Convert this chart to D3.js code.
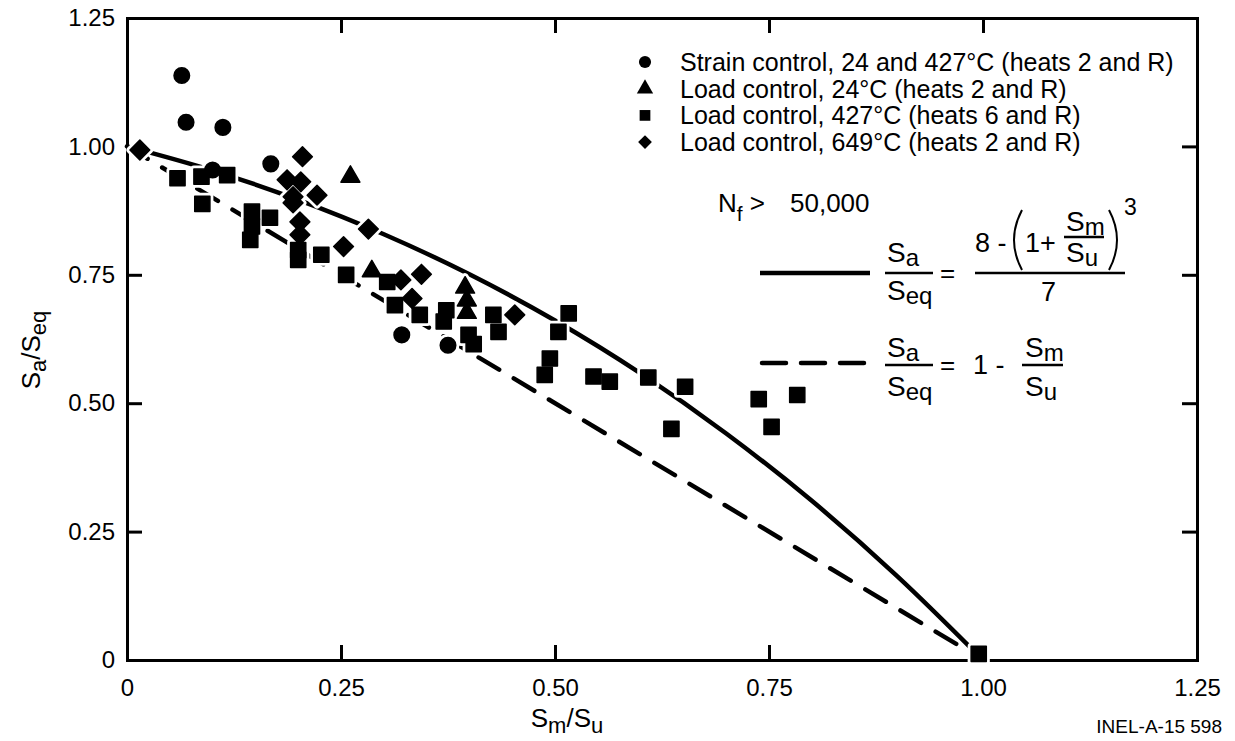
<!DOCTYPE html>
<html lang="en">
<head>
    <meta charset="UTF-8">
    <title>Sa/Seq vs Sm/Su</title>
    <style>
        body {
            margin: 0;
            padding: 0;
            background: #fff;
        }
        text {
            font-family: "Liberation Sans", Arial, Helvetica, sans-serif;
            fill: #000;
        }
        .axis path, .axis line {
            stroke: #000;
            stroke-width: 3px;
        }
        .axis text {
            font-size: 24px;
        }
    </style>
</head>
<body>
    <script src="https://d3js.org/d3.v7.min.js"></script>
    <script>
        // data
        const circleX = [0.064, 0.069, 0.112, 0.100, 0.168, 0.321, 0.375];
        const circleY = [1.138, 1.047, 1.037, 0.954, 0.966, 0.633, 0.613];

        const triangleX = [0.261, 0.286, 0.395, 0.397, 0.397];
        const triangleY = [0.941, 0.757, 0.725, 0.700, 0.676];

        const squareX = [0.059, 0.087, 0.117, 0.088, 0.146, 0.167, 0.146, 0.144, 0.200, 0.200, 0.227, 0.256,
            0.304, 0.313, 0.342, 0.373, 0.370, 0.399, 0.405, 0.428, 0.434, 0.516, 0.504, 0.494, 0.488,
            0.545, 0.564, 0.609, 0.652, 0.636, 0.738, 0.783, 0.753, 0.995];
        const squareY = [0.938, 0.941, 0.944, 0.888, 0.873, 0.861, 0.844, 0.818, 0.798, 0.779, 0.789, 0.750,
            0.736, 0.691, 0.672, 0.681, 0.659, 0.633, 0.615, 0.672, 0.639, 0.675, 0.639, 0.587, 0.555,
            0.552, 0.542, 0.550, 0.532, 0.450, 0.508, 0.516, 0.454, 0.012];

        const diamondX = [0.015, 0.205, 0.187, 0.203, 0.222, 0.194, 0.194, 0.202, 0.202, 0.282, 0.253,
            0.320, 0.344, 0.333, 0.453];
        const diamondY = [0.993, 0.980, 0.935, 0.931, 0.905, 0.902, 0.890, 0.853, 0.828, 0.839, 0.805,
            0.740, 0.751, 0.704, 0.672];

        // design curves
        const curveX = [0, 0.1, 0.2, 0.3, 0.4, 0.5, 0.6, 0.7, 0.8, 0.9, 1.0];
        const cubicY = [1.0, 0.953, 0.896, 0.829, 0.751, 0.661, 0.558, 0.441, 0.310, 0.163, 0.0];
        const linearX = [0, 1.0];
        const linearY = [1.0, 0.0];

        const ticks = [0, 0.25, 0.5, 0.75, 1.0, 1.25];

        const legendLabels = [
            'Strain control, 24 and 427°C (heats 2 and R)',
            'Load control, 24°C (heats 2 and R)',
            'Load control, 427°C (heats 6 and R)',
            'Load control, 649°C (heats 2 and R)'
        ];

        const width = 1235;
        const height = 741;

        const svg = d3.select('body').append('svg')
            .attr('width', width)
            .attr('height', height);

        const x = d3.scaleLinear().domain([0, 1.25]).range([127, 1197]);
        const y = d3.scaleLinear().domain([0, 1.25]).range([660, 18]);

        const fmt = d => d === 0 ? '0' : d3.format('.2f')(d);

        // frame with inward ticks on all four sides
        svg.append('g').attr('class', 'axis')
            .attr('transform', `translate(0,${y(0)})`)
            .call(d3.axisBottom(x).tickValues(ticks).tickFormat(fmt).tickSizeInner(-15).tickSizeOuter(0).tickPadding(19));
        svg.append('g').attr('class', 'axis')
            .attr('transform', `translate(${x(0)},0)`)
            .call(d3.axisLeft(y).tickValues(ticks).tickFormat(fmt).tickSizeInner(-15).tickSizeOuter(0).tickPadding(12));
        svg.append('g').attr('class', 'axis')
            .attr('transform', `translate(0,${y(1.25)})`)
            .call(d3.axisTop(x).tickValues(ticks).tickFormat('').tickSizeInner(-15).tickSizeOuter(0));
        svg.append('g').attr('class', 'axis')
            .attr('transform', `translate(${x(1.25)},0)`)
            .call(d3.axisRight(y).tickValues(ticks).tickFormat('').tickSizeInner(-15).tickSizeOuter(0));
        svg.selectAll('.axis .domain').attr('stroke-linecap', 'square');

        // curves
        const line = d3.line().x(d => x(d[0])).y(d => y(d[1])).curve(d3.curveMonotoneX);

        svg.append('path')
            .datum(curveX.map((v, i) => [v, cubicY[i]]))
            .attr('d', line)
            .attr('fill', 'none')
            .attr('stroke', '#000')
            .attr('stroke-width', 4.5);

        svg.append('path')
            .datum(linearX.map((v, i) => [v, linearY[i]]))
            .attr('d', line)
            .attr('fill', 'none')
            .attr('stroke', '#000')
            .attr('stroke-width', 4.5)
            .attr('stroke-linecap', 'round')
            .attr('stroke-dasharray', '24 17');

        // markers
        const shapes = {
            circle: d3.symbol().type(d3.symbolCircle).size(190)(),
            triangle: d3.symbol().type(d3.symbolTriangle).size(155)(),
            square: d3.symbol().type(d3.symbolSquare).size(230)(),
            diamond: d3.symbol().type(d3.symbolSquare).size(195)()
        };

        const points = [];
        circleX.forEach((v, i) => points.push({ kind: 'circle', x: v, y: circleY[i] }));
        triangleX.forEach((v, i) => points.push({ kind: 'triangle', x: v, y: triangleY[i] }));
        squareX.forEach((v, i) => points.push({ kind: 'square', x: v, y: squareY[i] }));
        diamondX.forEach((v, i) => points.push({ kind: 'diamond', x: v, y: diamondY[i] }));

        const place = d => `translate(${x(d.x)},${y(d.y)})` + (d.kind === 'diamond' ? ' rotate(45)' : '');

        // white halo first so the curves break around the points
        svg.append('g').selectAll('path')
            .data(points)
            .enter().append('path')
            .attr('d', d => shapes[d.kind])
            .attr('transform', place)
            .attr('fill', '#fff')
            .attr('stroke', '#fff')
            .attr('stroke-width', 7)
            .attr('stroke-linejoin', 'round');

        svg.append('g').selectAll('path')
            .data(points)
            .enter().append('path')
            .attr('d', d => shapes[d.kind])
            .attr('transform', place)
            .attr('fill', '#000')
            .attr('stroke', '#000')
            .attr('stroke-width', 1.5)
            .attr('stroke-linejoin', 'round');

        // legend
        const legendKinds = ['circle', 'triangle', 'square', 'diamond'];
        const legend = svg.append('g').attr('transform', 'translate(645,62)');
        legendKinds.forEach((k, i) => {
            const row = legend.append('g').attr('transform', `translate(0,${i * 26.7})`);
            row.append('path')
                .attr('d', d3.symbol().type(k === 'circle' ? d3.symbolCircle : k === 'triangle' ? d3.symbolTriangle : d3.symbolSquare)
                    .size(k === 'diamond' ? 95 : 115)())
                .attr('transform', k === 'diamond' ? 'rotate(45)' : null)
                .attr('fill', '#000');
            row.append('text')
                .attr('x', 35)
                .attr('y', 9)
                .attr('font-size', 25)
                .text(legendLabels[i]);
        });

        // Nf > 50,000
        const nf = svg.append('text').attr('x', 718).attr('y', 212).attr('font-size', 26);
        nf.append('tspan').text('N');
        nf.append('tspan').attr('dy', 9).attr('font-size', 21).text('f');
        nf.append('tspan').attr('dy', -9).text(' > ');
        nf.append('tspan').attr('x', 790).text('50,000');

        // helper for S with subscript
        function sTerm(xp, yp, sub, anchor) {
            const t = svg.append('text')
                .attr('x', xp).attr('y', yp)
                .attr('font-size', 28)
                .attr('text-anchor', anchor || 'start');
            t.append('tspan').text('S');
            t.append('tspan').attr('dy', 4).attr('font-size', 24).text(sub);
            return t;
        }
        function bar(x1, x2, yp) {
            svg.append('line')
                .attr('x1', x1).attr('x2', x2).attr('y1', yp).attr('y2', yp)
                .attr('stroke', '#000').attr('stroke-width', 2.5);
        }

        // solid curve key
        svg.append('line')
            .attr('x1', 760).attr('x2', 870).attr('y1', 273).attr('y2', 273)
            .attr('stroke', '#000').attr('stroke-width', 4.5);
        sTerm(887, 262, 'a');
        bar(885, 933, 273);
        sTerm(887, 300, 'eq');
        svg.append('text').attr('x', 940).attr('y', 282).attr('font-size', 26).text('=');
        bar(975, 1125, 273);
        svg.append('text').attr('x', 975).attr('y', 252).attr('font-size', 27).text('8 -');
        svg.append('path')
            .attr('d', 'M1022,210 Q1006,240 1022,270')
            .attr('fill', 'none').attr('stroke', '#000').attr('stroke-width', 2);
        svg.append('text').attr('x', 1025).attr('y', 252).attr('font-size', 27).text('1+');
        sTerm(1066, 231, 'm');
        bar(1064, 1104, 237);
        sTerm(1066, 262, 'u');
        svg.append('path')
            .attr('d', 'M1109,210 Q1125,240 1109,270')
            .attr('fill', 'none').attr('stroke', '#000').attr('stroke-width', 2);
        svg.append('text').attr('x', 1124).attr('y', 215).attr('font-size', 23).text('3');
        svg.append('text').attr('x', 1041).attr('y', 301).attr('font-size', 27).text('7');

        // dashed line key
        svg.append('line')
            .attr('x1', 762).attr('x2', 868).attr('y1', 363).attr('y2', 363)
            .attr('stroke', '#000').attr('stroke-width', 4.5)
            .attr('stroke-linecap', 'round')
            .attr('stroke-dasharray', '24 15');
        sTerm(887, 357, 'a');
        bar(885, 933, 365);
        sTerm(887, 396, 'eq');
        svg.append('text').attr('x', 940).attr('y', 374).attr('font-size', 26).text('=');
        svg.append('text').attr('x', 973).attr('y', 374).attr('font-size', 27).text('1 -');
        sTerm(1025, 357, 'm');
        bar(1022, 1063, 365);
        sTerm(1025, 396, 'u');

        // axis titles
        const xt = svg.append('text').attr('x', 567).attr('y', 727).attr('font-size', 26).attr('text-anchor', 'middle');
        xt.append('tspan').text('S');
        xt.append('tspan').attr('dy', 6).attr('font-size', 22).text('m');
        xt.append('tspan').attr('dy', -6).text('/S');
        xt.append('tspan').attr('dy', 6).attr('font-size', 22).text('u');

        const yt = svg.append('text')
            .attr('transform', 'translate(40,350) rotate(-90)')
            .attr('font-size', 26)
            .attr('text-anchor', 'middle');
        yt.append('tspan').text('S');
        yt.append('tspan').attr('dy', 6).attr('font-size', 22).text('a');
        yt.append('tspan').attr('dy', -6).text('/S');
        yt.append('tspan').attr('dy', 6).attr('font-size', 22).text('eq');

        svg.append('text')
            .attr('x', 1222).attr('y', 733)
            .attr('font-size', 19)
            .attr('text-anchor', 'end')
            .text('INEL-A-15 598');
    </script>
</body>
</html>
